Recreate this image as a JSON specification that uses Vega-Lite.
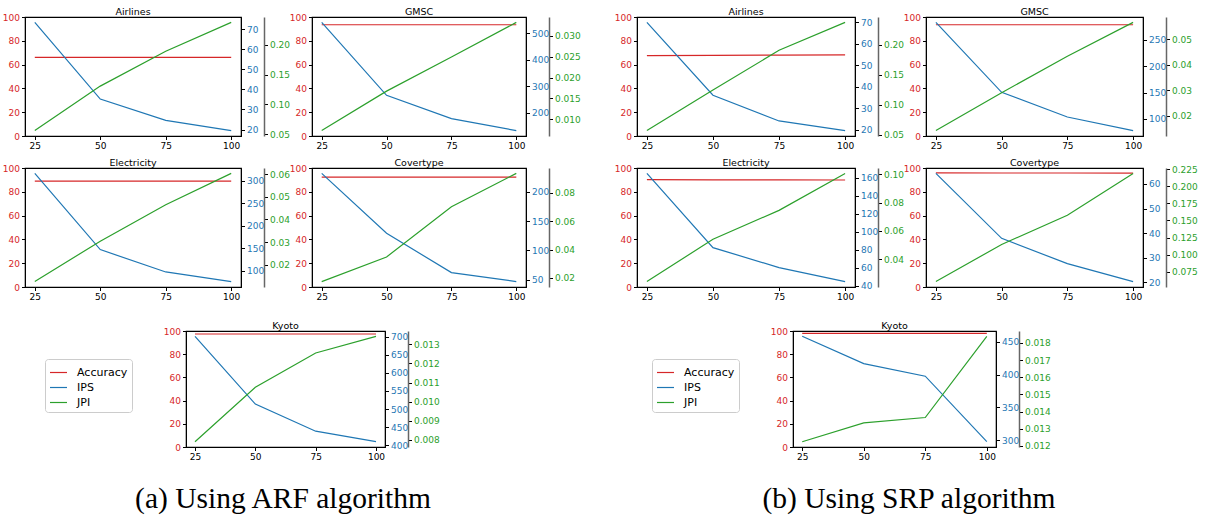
{
  "$schema": "https://vega.github.io/schema/vega-lite/v6.json",
  "background": "white",
  "padding": {"left": 1, "top": 5, "right": 0, "bottom": 0},
  "datasets": {
    "perf": [
      {"alg": "ARF", "ds": "Airlines", "n": 25, "acc": 66.0, "ips": 73.3, "jpi": 0.0561},
      {"alg": "ARF", "ds": "Airlines", "n": 50, "acc": 66.0, "ips": 35.2, "jpi": 0.1308},
      {"alg": "ARF", "ds": "Airlines", "n": 75, "acc": 66.0, "ips": 24.6, "jpi": 0.1894},
      {"alg": "ARF", "ds": "Airlines", "n": 100, "acc": 66.0, "ips": 19.5, "jpi": 0.2378},
      {"alg": "ARF", "ds": "GMSC", "n": 25, "acc": 93.5, "ips": 541, "jpi": 0.0073},
      {"alg": "ARF", "ds": "GMSC", "n": 50, "acc": 93.5, "ips": 266.6, "jpi": 0.01675},
      {"alg": "ARF", "ds": "GMSC", "n": 75, "acc": 93.5, "ips": 178.8, "jpi": 0.0249},
      {"alg": "ARF", "ds": "GMSC", "n": 100, "acc": 93.5, "ips": 133.6, "jpi": 0.0332},
      {"alg": "ARF", "ds": "Electricity", "n": 25, "acc": 89.0, "ips": 316, "jpi": 0.0125},
      {"alg": "ARF", "ds": "Electricity", "n": 50, "acc": 89.0, "ips": 146.7, "jpi": 0.0304},
      {"alg": "ARF", "ds": "Electricity", "n": 75, "acc": 89.0, "ips": 97, "jpi": 0.0465},
      {"alg": "ARF", "ds": "Electricity", "n": 100, "acc": 89.0, "ips": 75.6, "jpi": 0.0604},
      {"alg": "ARF", "ds": "Covertype", "n": 25, "acc": 92.4, "ips": 231, "jpi": 0.0174},
      {"alg": "ARF", "ds": "Covertype", "n": 50, "acc": 92.4, "ips": 129.2, "jpi": 0.0348},
      {"alg": "ARF", "ds": "Covertype", "n": 75, "acc": 92.4, "ips": 62.4, "jpi": 0.0702},
      {"alg": "ARF", "ds": "Covertype", "n": 100, "acc": 92.4, "ips": 47.1, "jpi": 0.0938},
      {"alg": "ARF", "ds": "Kyoto", "n": 25, "acc": 97.4, "ips": 701, "jpi": 0.00791},
      {"alg": "ARF", "ds": "Kyoto", "n": 50, "acc": 97.4, "ips": 514, "jpi": 0.01076},
      {"alg": "ARF", "ds": "Kyoto", "n": 75, "acc": 97.4, "ips": 439, "jpi": 0.01255},
      {"alg": "ARF", "ds": "Kyoto", "n": 100, "acc": 97.4, "ips": 410, "jpi": 0.01342},
      {"alg": "SRP", "ds": "Airlines", "n": 25, "acc": 67.6, "ips": 70.0, "jpi": 0.0572},
      {"alg": "SRP", "ds": "Airlines", "n": 50, "acc": 67.8, "ips": 36.0, "jpi": 0.1248},
      {"alg": "SRP", "ds": "Airlines", "n": 75, "acc": 68.0, "ips": 24.0, "jpi": 0.1912},
      {"alg": "SRP", "ds": "Airlines", "n": 100, "acc": 68.1, "ips": 19.5, "jpi": 0.2377},
      {"alg": "SRP", "ds": "GMSC", "n": 25, "acc": 93.5, "ips": 282.8, "jpi": 0.0143},
      {"alg": "SRP", "ds": "GMSC", "n": 50, "acc": 93.5, "ips": 150.4, "jpi": 0.0291},
      {"alg": "SRP", "ds": "GMSC", "n": 75, "acc": 93.5, "ips": 103.7, "jpi": 0.0433},
      {"alg": "SRP", "ds": "GMSC", "n": 100, "acc": 93.5, "ips": 77.9, "jpi": 0.0565},
      {"alg": "SRP", "ds": "Electricity", "n": 25, "acc": 90.2, "ips": 164.8, "jpi": 0.0244},
      {"alg": "SRP", "ds": "Electricity", "n": 50, "acc": 90.1, "ips": 82.2, "jpi": 0.0542},
      {"alg": "SRP", "ds": "Electricity", "n": 75, "acc": 90.0, "ips": 60.0, "jpi": 0.0745},
      {"alg": "SRP", "ds": "Electricity", "n": 100, "acc": 89.9, "ips": 44.4, "jpi": 0.1005},
      {"alg": "SRP", "ds": "Covertype", "n": 25, "acc": 95.9, "ips": 64.3, "jpi": 0.061},
      {"alg": "SRP", "ds": "Covertype", "n": 50, "acc": 95.8, "ips": 37.9, "jpi": 0.1151},
      {"alg": "SRP", "ds": "Covertype", "n": 75, "acc": 95.8, "ips": 27.6, "jpi": 0.1577},
      {"alg": "SRP", "ds": "Covertype", "n": 100, "acc": 95.7, "ips": 20.3, "jpi": 0.2186},
      {"alg": "SRP", "ds": "Kyoto", "n": 25, "acc": 98.0, "ips": 458.1, "jpi": 0.01225},
      {"alg": "SRP", "ds": "Kyoto", "n": 50, "acc": 98.0, "ips": 416.7, "jpi": 0.01335},
      {"alg": "SRP", "ds": "Kyoto", "n": 75, "acc": 98.0, "ips": 397.5, "jpi": 0.01366},
      {"alg": "SRP", "ds": "Kyoto", "n": 100, "acc": 98.0, "ips": 298, "jpi": 0.01839}
    ]
  },
  "spacing": 4,
  "vconcat": [
    {
      "bounds": "flush",
      "spacing": 0,
      "hconcat": [
        {
          "title": "Airlines", "width": 216, "height": 119,
          "data": {"name": "perf"},
          "transform": [{"filter": "datum.alg == 'ARF' && datum.ds == 'Airlines'"}],
          "encoding": {"x": {"field": "n", "type": "quantitative", "scale": {"domain": [25, 100], "padding": 9.8, "nice": false, "zero": false}, "axis": {"values": [25, 50, 75, 100], "title": null}}},
          "layer": [
            {"mark": {"type": "line", "color": "#d62728"}, "encoding": {"y": {"field": "acc", "type": "quantitative", "scale": {"domain": [0, 100], "nice": false}, "axis": {"orient": "left", "values": [0, 20, 40, 60, 80, 100], "title": null, "labelColor": "#d62728"}}}},
            {"mark": {"type": "line", "color": "#1f77b4"}, "encoding": {"y": {"field": "ips", "type": "quantitative", "scale": {"zero": false, "nice": false, "padding": 5.4}, "axis": {"orient": "right", "values": [20, 30, 40, 50, 60, 70], "title": null, "labelColor": "#1f77b4"}}}},
            {"mark": {"type": "line", "color": "#2ca02c"}, "encoding": {"y": {"field": "jpi", "type": "quantitative", "scale": {"zero": false, "nice": false, "padding": 5.4}, "axis": {"orient": "right", "offset": 23, "values": [0.05, 0.10, 0.15, 0.20], "format": ".2f", "title": null, "labelColor": "#2ca02c", "domainColor": "#666", "domainWidth": 1.5}}}}
          ],
          "resolve": {"scale": {"y": "independent"}}
        },
        {"width": 71, "height": 1, "data": {"values": []}, "mark": "point", "view": {"stroke": null}},
        {
          "title": "GMSC", "width": 214, "height": 119,
          "data": {"name": "perf"},
          "transform": [{"filter": "datum.alg == 'ARF' && datum.ds == 'GMSC'"}],
          "encoding": {"x": {"field": "n", "type": "quantitative", "scale": {"domain": [25, 100], "padding": 9.7, "nice": false, "zero": false}, "axis": {"values": [25, 50, 75, 100], "title": null}}},
          "layer": [
            {"mark": {"type": "line", "color": "#d62728"}, "encoding": {"y": {"field": "acc", "type": "quantitative", "scale": {"domain": [0, 100], "nice": false}, "axis": {"orient": "left", "values": [0, 20, 40, 60, 80, 100], "title": null, "labelColor": "#d62728"}}}},
            {"mark": {"type": "line", "color": "#1f77b4"}, "encoding": {"y": {"field": "ips", "type": "quantitative", "scale": {"zero": false, "nice": false, "padding": 5.4}, "axis": {"orient": "right", "values": [200, 300, 400, 500], "title": null, "labelColor": "#1f77b4"}}}},
            {"mark": {"type": "line", "color": "#2ca02c"}, "encoding": {"y": {"field": "jpi", "type": "quantitative", "scale": {"zero": false, "nice": false, "padding": 5.4}, "axis": {"orient": "right", "offset": 23, "values": [0.010, 0.015, 0.020, 0.025, 0.030], "format": ".3f", "title": null, "labelColor": "#2ca02c", "domainColor": "#666", "domainWidth": 1.5}}}}
          ],
          "resolve": {"scale": {"y": "independent"}}
        },
        {"width": 111, "height": 1, "data": {"values": []}, "mark": "point", "view": {"stroke": null}},
        {
          "title": "Airlines", "width": 218, "height": 119,
          "data": {"name": "perf"},
          "transform": [{"filter": "datum.alg == 'SRP' && datum.ds == 'Airlines'"}],
          "encoding": {"x": {"field": "n", "type": "quantitative", "scale": {"domain": [25, 100], "padding": 9.9, "nice": false, "zero": false}, "axis": {"values": [25, 50, 75, 100], "title": null}}},
          "layer": [
            {"mark": {"type": "line", "color": "#d62728"}, "encoding": {"y": {"field": "acc", "type": "quantitative", "scale": {"domain": [0, 100], "nice": false}, "axis": {"orient": "left", "values": [0, 20, 40, 60, 80, 100], "title": null, "labelColor": "#d62728"}}}},
            {"mark": {"type": "line", "color": "#1f77b4"}, "encoding": {"y": {"field": "ips", "type": "quantitative", "scale": {"zero": false, "nice": false, "padding": 5.4}, "axis": {"orient": "right", "values": [20, 30, 40, 50, 60, 70], "title": null, "labelColor": "#1f77b4"}}}},
            {"mark": {"type": "line", "color": "#2ca02c"}, "encoding": {"y": {"field": "jpi", "type": "quantitative", "scale": {"zero": false, "nice": false, "padding": 5.4}, "axis": {"orient": "right", "offset": 23, "values": [0.05, 0.10, 0.15, 0.20], "format": ".2f", "title": null, "labelColor": "#2ca02c", "domainColor": "#666", "domainWidth": 1.5}}}}
          ],
          "resolve": {"scale": {"y": "independent"}}
        },
        {"width": 71, "height": 1, "data": {"values": []}, "mark": "point", "view": {"stroke": null}},
        {
          "title": "GMSC", "width": 217, "height": 119,
          "data": {"name": "perf"},
          "transform": [{"filter": "datum.alg == 'SRP' && datum.ds == 'GMSC'"}],
          "encoding": {"x": {"field": "n", "type": "quantitative", "scale": {"domain": [25, 100], "padding": 9.9, "nice": false, "zero": false}, "axis": {"values": [25, 50, 75, 100], "title": null}}},
          "layer": [
            {"mark": {"type": "line", "color": "#d62728"}, "encoding": {"y": {"field": "acc", "type": "quantitative", "scale": {"domain": [0, 100], "nice": false}, "axis": {"orient": "left", "values": [0, 20, 40, 60, 80, 100], "title": null, "labelColor": "#d62728"}}}},
            {"mark": {"type": "line", "color": "#1f77b4"}, "encoding": {"y": {"field": "ips", "type": "quantitative", "scale": {"zero": false, "nice": false, "padding": 5.4}, "axis": {"orient": "right", "values": [100, 150, 200, 250], "title": null, "labelColor": "#1f77b4"}}}},
            {"mark": {"type": "line", "color": "#2ca02c"}, "encoding": {"y": {"field": "jpi", "type": "quantitative", "scale": {"zero": false, "nice": false, "padding": 5.4}, "axis": {"orient": "right", "offset": 23, "values": [0.02, 0.03, 0.04, 0.05], "format": ".2f", "title": null, "labelColor": "#2ca02c", "domainColor": "#666", "domainWidth": 1.5}}}}
          ],
          "resolve": {"scale": {"y": "independent"}}
        }
      ]
    },
    {
      "bounds": "flush",
      "spacing": 0,
      "hconcat": [
        {
          "title": "Electricity", "width": 216, "height": 119,
          "data": {"name": "perf"},
          "transform": [{"filter": "datum.alg == 'ARF' && datum.ds == 'Electricity'"}],
          "encoding": {"x": {"field": "n", "type": "quantitative", "scale": {"domain": [25, 100], "padding": 9.8, "nice": false, "zero": false}, "axis": {"values": [25, 50, 75, 100], "title": null}}},
          "layer": [
            {"mark": {"type": "line", "color": "#d62728"}, "encoding": {"y": {"field": "acc", "type": "quantitative", "scale": {"domain": [0, 100], "nice": false}, "axis": {"orient": "left", "values": [0, 20, 40, 60, 80, 100], "title": null, "labelColor": "#d62728"}}}},
            {"mark": {"type": "line", "color": "#1f77b4"}, "encoding": {"y": {"field": "ips", "type": "quantitative", "scale": {"zero": false, "nice": false, "padding": 5.4}, "axis": {"orient": "right", "values": [100, 150, 200, 250, 300], "title": null, "labelColor": "#1f77b4"}}}},
            {"mark": {"type": "line", "color": "#2ca02c"}, "encoding": {"y": {"field": "jpi", "type": "quantitative", "scale": {"zero": false, "nice": false, "padding": 5.4}, "axis": {"orient": "right", "offset": 23, "values": [0.02, 0.03, 0.04, 0.05, 0.06], "format": ".2f", "title": null, "labelColor": "#2ca02c", "domainColor": "#666", "domainWidth": 1.5}}}}
          ],
          "resolve": {"scale": {"y": "independent"}}
        },
        {"width": 71, "height": 1, "data": {"values": []}, "mark": "point", "view": {"stroke": null}},
        {
          "title": "Covertype", "width": 214, "height": 119,
          "data": {"name": "perf"},
          "transform": [{"filter": "datum.alg == 'ARF' && datum.ds == 'Covertype'"}],
          "encoding": {"x": {"field": "n", "type": "quantitative", "scale": {"domain": [25, 100], "padding": 9.7, "nice": false, "zero": false}, "axis": {"values": [25, 50, 75, 100], "title": null}}},
          "layer": [
            {"mark": {"type": "line", "color": "#d62728"}, "encoding": {"y": {"field": "acc", "type": "quantitative", "scale": {"domain": [0, 100], "nice": false}, "axis": {"orient": "left", "values": [0, 20, 40, 60, 80, 100], "title": null, "labelColor": "#d62728"}}}},
            {"mark": {"type": "line", "color": "#1f77b4"}, "encoding": {"y": {"field": "ips", "type": "quantitative", "scale": {"zero": false, "nice": false, "padding": 5.4}, "axis": {"orient": "right", "values": [50, 100, 150, 200], "title": null, "labelColor": "#1f77b4"}}}},
            {"mark": {"type": "line", "color": "#2ca02c"}, "encoding": {"y": {"field": "jpi", "type": "quantitative", "scale": {"zero": false, "nice": false, "padding": 5.4}, "axis": {"orient": "right", "offset": 23, "values": [0.02, 0.04, 0.06, 0.08], "format": ".2f", "title": null, "labelColor": "#2ca02c", "domainColor": "#666", "domainWidth": 1.5}}}}
          ],
          "resolve": {"scale": {"y": "independent"}}
        },
        {"width": 111, "height": 1, "data": {"values": []}, "mark": "point", "view": {"stroke": null}},
        {
          "title": "Electricity", "width": 218, "height": 119,
          "data": {"name": "perf"},
          "transform": [{"filter": "datum.alg == 'SRP' && datum.ds == 'Electricity'"}],
          "encoding": {"x": {"field": "n", "type": "quantitative", "scale": {"domain": [25, 100], "padding": 9.9, "nice": false, "zero": false}, "axis": {"values": [25, 50, 75, 100], "title": null}}},
          "layer": [
            {"mark": {"type": "line", "color": "#d62728"}, "encoding": {"y": {"field": "acc", "type": "quantitative", "scale": {"domain": [0, 100], "nice": false}, "axis": {"orient": "left", "values": [0, 20, 40, 60, 80, 100], "title": null, "labelColor": "#d62728"}}}},
            {"mark": {"type": "line", "color": "#1f77b4"}, "encoding": {"y": {"field": "ips", "type": "quantitative", "scale": {"zero": false, "nice": false, "padding": 5.4}, "axis": {"orient": "right", "values": [40, 60, 80, 100, 120, 140, 160], "title": null, "labelColor": "#1f77b4"}}}},
            {"mark": {"type": "line", "color": "#2ca02c"}, "encoding": {"y": {"field": "jpi", "type": "quantitative", "scale": {"zero": false, "nice": false, "padding": 5.4}, "axis": {"orient": "right", "offset": 23, "values": [0.04, 0.06, 0.08, 0.10], "format": ".2f", "title": null, "labelColor": "#2ca02c", "domainColor": "#666", "domainWidth": 1.5}}}}
          ],
          "resolve": {"scale": {"y": "independent"}}
        },
        {"width": 71, "height": 1, "data": {"values": []}, "mark": "point", "view": {"stroke": null}},
        {
          "title": "Covertype", "width": 217, "height": 119,
          "data": {"name": "perf"},
          "transform": [{"filter": "datum.alg == 'SRP' && datum.ds == 'Covertype'"}],
          "encoding": {"x": {"field": "n", "type": "quantitative", "scale": {"domain": [25, 100], "padding": 9.9, "nice": false, "zero": false}, "axis": {"values": [25, 50, 75, 100], "title": null}}},
          "layer": [
            {"mark": {"type": "line", "color": "#d62728"}, "encoding": {"y": {"field": "acc", "type": "quantitative", "scale": {"domain": [0, 100], "nice": false}, "axis": {"orient": "left", "values": [0, 20, 40, 60, 80, 100], "title": null, "labelColor": "#d62728"}}}},
            {"mark": {"type": "line", "color": "#1f77b4"}, "encoding": {"y": {"field": "ips", "type": "quantitative", "scale": {"zero": false, "nice": false, "padding": 5.4}, "axis": {"orient": "right", "values": [20, 30, 40, 50, 60], "title": null, "labelColor": "#1f77b4"}}}},
            {"mark": {"type": "line", "color": "#2ca02c"}, "encoding": {"y": {"field": "jpi", "type": "quantitative", "scale": {"zero": false, "nice": false, "padding": 5.4}, "axis": {"orient": "right", "offset": 23, "values": [0.075, 0.1, 0.125, 0.15, 0.175, 0.2, 0.225], "format": ".3f", "title": null, "labelColor": "#2ca02c", "domainColor": "#666", "domainWidth": 1.5}}}}
          ],
          "resolve": {"scale": {"y": "independent"}}
        }
      ]
    },
    {"width": 1, "height": 8, "data": {"values": []}, "mark": "point", "view": {"stroke": null}},
    {
      "bounds": "flush",
      "spacing": 0,
      "resolve": {"scale": {"color": "independent"}, "legend": {"color": "independent"}},
      "hconcat": [
        {"width": 161, "height": 1, "data": {"values": []}, "mark": "point", "view": {"stroke": null}},
        {
          "title": "Kyoto", "width": 199, "height": 116,
          "data": {"name": "perf"},
          "transform": [{"filter": "datum.alg == 'ARF' && datum.ds == 'Kyoto'"}],
          "encoding": {"x": {"field": "n", "type": "quantitative", "scale": {"domain": [25, 100], "padding": 9.0, "nice": false, "zero": false}, "axis": {"values": [25, 50, 75, 100], "title": null}}},
          "layer": [
            {"mark": "line", "encoding": {"y": {"field": "acc", "type": "quantitative", "scale": {"domain": [0, 100], "nice": false}, "axis": {"orient": "left", "values": [0, 20, 40, 60, 80, 100], "title": null, "labelColor": "#d62728"}}, "color": {"datum": "Accuracy", "type": "nominal", "scale": {"domain": ["Accuracy", "IPS", "JPI"], "range": ["#d62728", "#1f77b4", "#2ca02c"]}}}},
            {"mark": "line", "encoding": {"y": {"field": "ips", "type": "quantitative", "scale": {"zero": false, "nice": false, "padding": 5.3}, "axis": {"orient": "right", "values": [400, 450, 500, 550, 600, 650, 700], "title": null, "labelColor": "#1f77b4"}}, "color": {"datum": "IPS", "type": "nominal"}}},
            {"mark": "line", "encoding": {"y": {"field": "jpi", "type": "quantitative", "scale": {"zero": false, "nice": false, "padding": 5.3}, "axis": {"orient": "right", "offset": 23, "values": [0.008, 0.009, 0.010, 0.011, 0.012, 0.013], "format": ".3f", "title": null, "labelColor": "#2ca02c", "domainColor": "#666", "domainWidth": 1.5}}, "color": {"datum": "JPI", "type": "nominal"}}}
          ],
          "resolve": {"scale": {"y": "independent"}}
        },
        {"width": 408, "height": 1, "data": {"values": []}, "mark": "point", "view": {"stroke": null}},
        {
          "title": "Kyoto", "width": 203, "height": 116,
          "data": {"name": "perf"},
          "transform": [{"filter": "datum.alg == 'SRP' && datum.ds == 'Kyoto'"}],
          "encoding": {"x": {"field": "n", "type": "quantitative", "scale": {"domain": [25, 100], "padding": 9.2, "nice": false, "zero": false}, "axis": {"values": [25, 50, 75, 100], "title": null}}},
          "layer": [
            {"mark": "line", "encoding": {"y": {"field": "acc", "type": "quantitative", "scale": {"domain": [0, 100], "nice": false}, "axis": {"orient": "left", "values": [0, 20, 40, 60, 80, 100], "title": null, "labelColor": "#d62728"}}, "color": {"datum": "Accuracy", "type": "nominal", "scale": {"domain": ["Accuracy", "IPS", "JPI"], "range": ["#d62728", "#1f77b4", "#2ca02c"]}}}},
            {"mark": "line", "encoding": {"y": {"field": "ips", "type": "quantitative", "scale": {"zero": false, "nice": false, "padding": 5.3}, "axis": {"orient": "right", "values": [300, 350, 400, 450], "title": null, "labelColor": "#1f77b4"}}, "color": {"datum": "IPS", "type": "nominal"}}},
            {"mark": "line", "encoding": {"y": {"field": "jpi", "type": "quantitative", "scale": {"zero": false, "nice": false, "padding": 5.3}, "axis": {"orient": "right", "offset": 23, "values": [0.012, 0.013, 0.014, 0.015, 0.016, 0.017, 0.018], "format": ".3f", "title": null, "labelColor": "#2ca02c", "domainColor": "#666", "domainWidth": 1.5}}, "color": {"datum": "JPI", "type": "nominal"}}}
          ],
          "resolve": {"scale": {"y": "independent"}}
        }
      ]
    },
    {
      "bounds": "flush",
      "spacing": 0,
      "hconcat": [
        {"width": 516, "height": 64, "data": {"values": [{"caption": "(a) Using ARF algorithm"}]}, "mark": {"type": "text", "font": "Liberation Serif", "fontSize": 29.5, "color": "black", "baseline": "middle", "align": "center"}, "encoding": {"text": {"field": "caption", "type": "nominal"}}, "view": {"stroke": null}},
        {"width": 736, "height": 64, "data": {"values": [{"caption": "(b) Using SRP algorithm"}]}, "mark": {"type": "text", "font": "Liberation Serif", "fontSize": 29.5, "color": "black", "baseline": "middle", "align": "center"}, "encoding": {"text": {"field": "caption", "type": "nominal"}}, "view": {"stroke": null}}
      ]
    }
  ],
  "config": {
    "view": {"stroke": "black", "strokeWidth": 1.2},
    "axis": {"grid": false, "labelFont": "DejaVu Sans", "labelFontSize": 9, "tickSize": 3.5, "tickColor": "black", "domainColor": "black", "labelPadding": 2, "labelOverlap": false, "labelFlush": false, "labelColor": "black"},
    "title": {"font": "DejaVu Sans", "fontSize": 9.5, "fontWeight": "normal", "color": "black", "offset": -3},
    "line": {"strokeWidth": 1.2},
    "legend": {"orient": "none", "legendX": -141, "legendY": 28, "title": null, "symbolType": "stroke", "symbolSize": 289, "symbolStrokeWidth": 1.5, "labelFont": "DejaVu Sans", "labelFontSize": 11, "labelColor": "black", "labelOffset": 9, "strokeColor": "#cccccc", "fillColor": "white", "padding": 4, "cornerRadius": 3, "rowPadding": 0}
  }
}
